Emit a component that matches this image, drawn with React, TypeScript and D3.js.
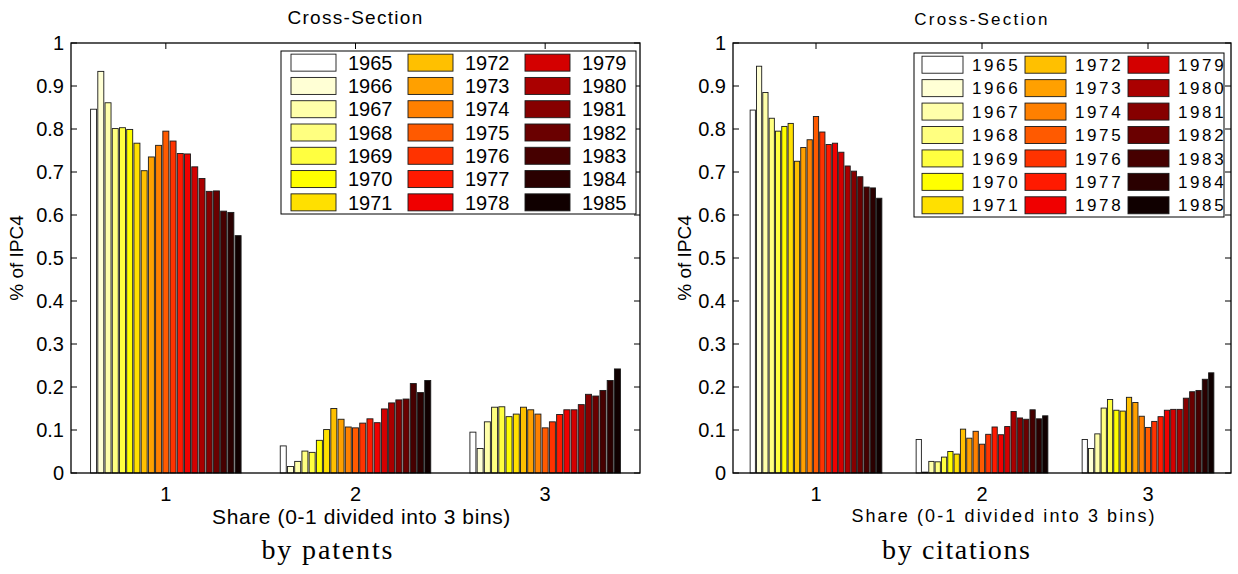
import * as d3 from "d3";

const years = [
  1965, 1966, 1967, 1968, 1969, 1970, 1971, 1972, 1973, 1974, 1975,
  1976, 1977, 1978, 1979, 1980, 1981, 1982, 1983, 1984, 1985,
];

const yearColors = [
  "#ffffff", "#ffffd5", "#ffffaa", "#ffff80", "#ffff40", "#ffff00", "#ffe000",
  "#ffc000", "#ffa000", "#ff8000", "#ff5a00", "#ff3300", "#ff1a00", "#f00000",
  "#d40000", "#aa0000", "#860000", "#6a0000", "#460000", "#2a0000", "#100000",
];

const bins = [1, 2, 3];

// by patents, one value per year
const patentsBin1 = [
  0.846, 0.934, 0.861, 0.801, 0.803, 0.799, 0.767, 0.703, 0.735, 0.762, 0.795,
  0.772, 0.743, 0.742, 0.712, 0.685, 0.655, 0.656, 0.609, 0.606, 0.552,
];
const patentsBin2 = [
  0.063, 0.015, 0.027, 0.051, 0.048, 0.076, 0.101, 0.15, 0.125, 0.107, 0.105,
  0.116, 0.126, 0.117, 0.149, 0.163, 0.17, 0.172, 0.208, 0.187, 0.215,
];
const patentsBin3 = [
  0.095, 0.057, 0.119, 0.153, 0.154, 0.131, 0.137, 0.153, 0.147, 0.137, 0.105,
  0.119, 0.136, 0.147, 0.147, 0.159, 0.183, 0.179, 0.192, 0.215, 0.242,
];

// by citations
const citationsBin1 = [
  0.844, 0.946, 0.885, 0.825, 0.795, 0.806, 0.813, 0.725, 0.757, 0.775, 0.829,
  0.793, 0.764, 0.767, 0.746, 0.714, 0.702, 0.689, 0.665, 0.663, 0.639,
];
const citationsBin2 = [
  0.078, 0.002, 0.027, 0.026, 0.037, 0.05, 0.044, 0.102, 0.081, 0.097, 0.067,
  0.09, 0.107, 0.089, 0.108, 0.143, 0.128, 0.125, 0.147, 0.126, 0.133,
];
const citationsBin3 = [
  0.078, 0.057, 0.091, 0.151, 0.171, 0.146, 0.144, 0.176, 0.164, 0.132, 0.106,
  0.12, 0.131, 0.146, 0.148, 0.148, 0.174, 0.189, 0.192, 0.218, 0.233,
];

const yTicks = [0, 0.1, 0.2, 0.3, 0.4, 0.5, 0.6, 0.7, 0.8, 0.9, 1];
const yTickLabels = ["0", "0.1", "0.2", "0.3", "0.4", "0.5", "0.6", "0.7", "0.8", "0.9", "1"];

const SANS = "'Liberation Sans', Arial, sans-serif";
const SERIF = "'Liberation Serif', 'Times New Roman', serif";

type PanelProps = {
  id: string;
  series: number[][];
  frame: { left: number; right: number; top: number; bottom: number };
  legend: {
    left: number; top: number; right: number; bottom: number;
    padX: number; colStep: number; swW: number; swH: number;
    textDx: number; fontSize: number; spacing: number;
  };
  titleY: number;
  titleSize: number;
  titleSpacing: number;
  xLabelSize: number;
  xLabelSpacing: number;
  xLabelDx: number;
  yLabelX: number;
  caption: string;
  captionX: number;
  captionLen: number;
};

function Panel(p: PanelProps) {
  const { frame, legend } = p;
  const x = d3.scaleLinear().domain([0.5, 3.5]).range([frame.left, frame.right]);
  const y = d3.scaleLinear().domain([0, 1]).range([frame.bottom, frame.top]);
  const unit = x(1) - x(0);
  const inner = d3
    .scaleBand<number>()
    .domain(years)
    .range([-0.4 * unit, 0.4 * unit])
    .paddingInner(0.17)
    .paddingOuter(0.085);
  const midX = (frame.left + frame.right) / 2;
  const midY = (frame.top + frame.bottom) / 2;
  const rowStep = (legend.bottom - legend.top) / 7;
  const tickLen = 6;

  return (
    <g>
      <defs>
        <clipPath id={`clip-${p.id}`}>
          <rect x={legend.left} y={legend.top} width={legend.right - legend.left} height={legend.bottom - legend.top} />
        </clipPath>
      </defs>
      {/* ticks */}
      {yTicks.map((t) => (
        <g key={`yt${t}`} stroke="#000" strokeWidth={1}>
          <line x1={frame.left} x2={frame.left + tickLen} y1={y(t)} y2={y(t)} />
          <line x1={frame.right} x2={frame.right - tickLen} y1={y(t)} y2={y(t)} />
        </g>
      ))}
      {bins.map((b) => (
        <g key={`xt${b}`} stroke="#000" strokeWidth={1}>
          <line x1={x(b)} x2={x(b)} y1={frame.top} y2={frame.top + tickLen} />
          <line x1={x(b)} x2={x(b)} y1={frame.bottom} y2={frame.bottom - tickLen} />
        </g>
      ))}
      {/* bars */}
      {bins.map((b, bi) =>
        years.map((yr, i) => (
          <rect
            key={`b${b}-${yr}`}
            x={x(b) + (inner(yr) as number)}
            y={y(p.series[bi][i])}
            width={inner.bandwidth()}
            height={y(0) - y(p.series[bi][i])}
            fill={yearColors[i]}
            stroke="#1a1a1a"
            strokeWidth={0.9}
          />
        ))
      )}
      {/* frame */}
      <rect
        x={frame.left}
        y={frame.top}
        width={frame.right - frame.left}
        height={frame.bottom - frame.top}
        fill="none"
        stroke="#000"
        strokeWidth={1.3}
      />
      {/* legend */}
      <rect
        x={legend.left}
        y={legend.top}
        width={legend.right - legend.left}
        height={legend.bottom - legend.top}
        fill="#fff"
        stroke="#000"
        strokeWidth={1}
      />
      <g clipPath={`url(#clip-${p.id})`}>
        {years.map((yr, i) => {
          const col = Math.floor(i / 7);
          const row = i % 7;
          const sx = legend.left + legend.padX + col * legend.colStep;
          const cy = legend.top + rowStep * (row + 0.5);
          return (
            <g key={`lg${yr}`}>
              <rect
                x={sx}
                y={cy - legend.swH / 2}
                width={legend.swW}
                height={legend.swH}
                fill={yearColors[i]}
                stroke="#1a1a1a"
                strokeWidth={0.9}
              />
              <text
                x={sx + legend.textDx}
                y={cy}
                dy="0.36em"
                fontFamily={SANS}
                fontSize={legend.fontSize}
                letterSpacing={legend.spacing}
              >
                {yr}
              </text>
            </g>
          );
        })}
      </g>
      {/* tick labels */}
      {yTicks.map((t, i) => (
        <text
          key={`yl${t}`}
          x={frame.left - 7}
          y={y(t)}
          dy="0.36em"
          textAnchor="end"
          fontFamily={SANS}
          fontSize={20}
        >
          {yTickLabels[i]}
        </text>
      ))}
      {bins.map((b) => (
        <text key={`xl${b}`} x={x(b)} y={494} dy="0.36em" textAnchor="middle" fontFamily={SANS} fontSize={20}>
          {b}
        </text>
      ))}
      {/* titles */}
      <text
        x={midX}
        y={p.titleY}
        dy="0.36em"
        textAnchor="middle"
        fontFamily={SANS}
        fontSize={p.titleSize}
        letterSpacing={p.titleSpacing}
      >
        Cross-Section
      </text>
      <text
        x={midX + p.xLabelDx}
        y={516}
        dy="0.36em"
        textAnchor="middle"
        fontFamily={SANS}
        fontSize={p.xLabelSize}
        letterSpacing={p.xLabelSpacing}
      >
        Share (0-1 divided into 3 bins)
      </text>
      <text
        transform={`translate(${p.yLabelX},${midY}) rotate(-90)`}
        dy="0.36em"
        textAnchor="middle"
        fontFamily={SANS}
        fontSize={19}
      >
        % of IPC4
      </text>
      <text
        x={p.captionX}
        y={550}
        dy="0.32em"
        textAnchor="middle"
        fontFamily={SERIF}
        fontSize={28}
        textLength={p.captionLen}
        lengthAdjust="spacing"
      >
        {p.caption}
      </text>
    </g>
  );
}

export default function App() {
  return (
    <svg
      width={1238}
      height={574}
      style={{ position: "absolute", left: 0, top: 0, background: "#fff" }}
    >
      <rect width={1238} height={574} fill="#fff" />
      <Panel
        id="patents"
        series={[patentsBin1, patentsBin2, patentsBin3]}
        frame={{ left: 71, right: 640, top: 43, bottom: 473 }}
        legend={{
          left: 281, top: 51, right: 636, bottom: 214,
          padX: 10, colStep: 117, swW: 45, swH: 17,
          textDx: 57, fontSize: 20, spacing: 0,
        }}
        titleY={17}
        titleSize={19}
        titleSpacing={1.3}
        xLabelSize={21}
        xLabelSpacing={0.6}
        xLabelDx={6}
        yLabelX={16}
        caption="by patents"
        captionX={327}
        captionLen={131}
      />
      <Panel
        id="citations"
        series={[citationsBin1, citationsBin2, citationsBin3]}
        frame={{ left: 733, right: 1231, top: 43, bottom: 473 }}
        legend={{
          left: 914, top: 53, right: 1224, bottom: 217,
          padX: 8, colStep: 103, swW: 41, swH: 17,
          textDx: 50, fontSize: 17, spacing: 2.6,
        }}
        titleY={19}
        titleSize={17}
        titleSpacing={2.2}
        xLabelSize={18}
        xLabelSpacing={2.1}
        xLabelDx={22}
        yLabelX={684}
        caption="by citations"
        captionX={956}
        captionLen={148}
      />
    </svg>
  );
}
